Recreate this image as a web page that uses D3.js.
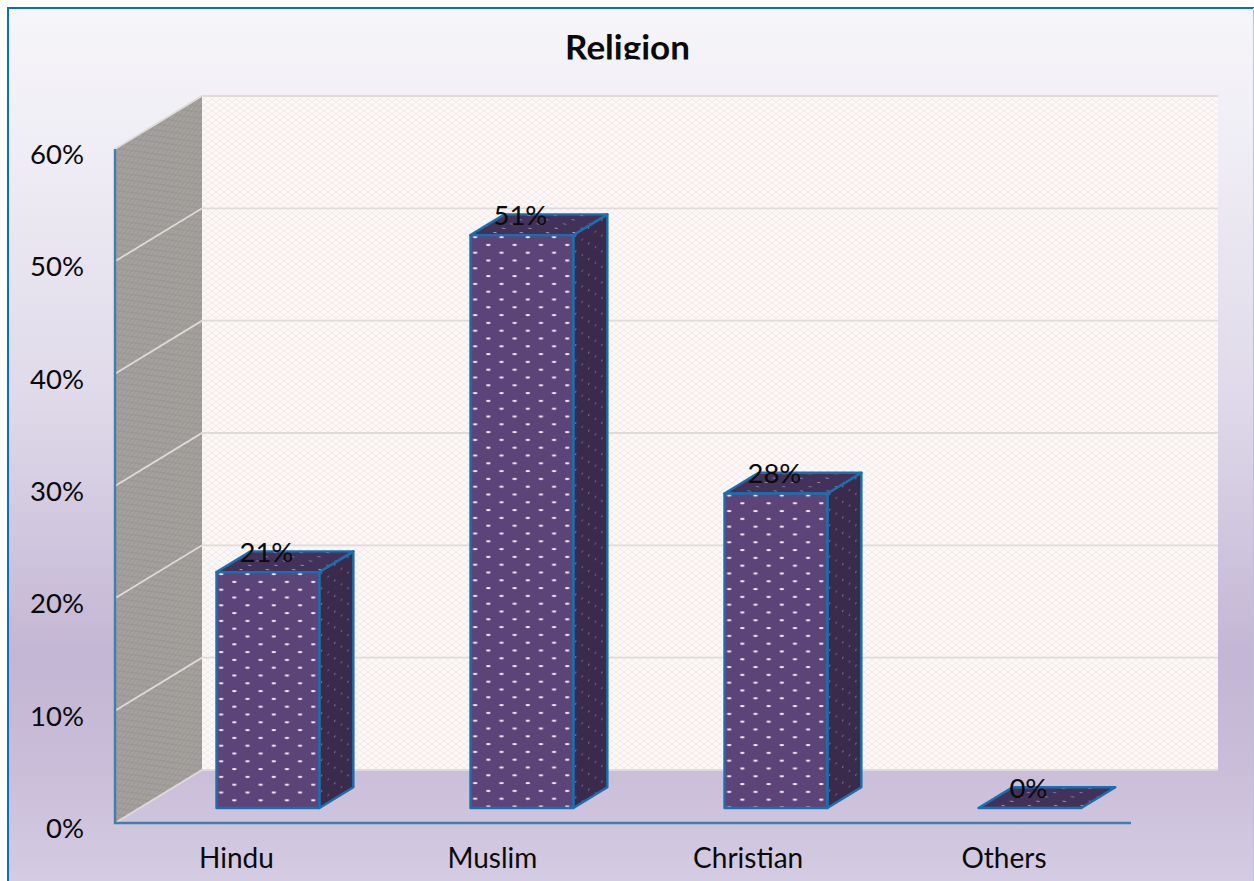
<!DOCTYPE html>
<html>
<head>
<meta charset="utf-8">
<script src="https://cdn.jsdelivr.net/npm/d3@7/dist/d3.min.js"></script>
<style>
html,body{margin:0;padding:0;background:#fff;overflow:hidden}
svg{display:block}
text{font-family:Lato,"Open Sans",sans-serif;fill:#0a0a0a}
</style>
</head>
<body>
<svg id="chart" width="1254" height="881"></svg>
<script>
// Chart content
const chartTitle = "Religion";
const categories = ["Hindu", "Muslim", "Christian", "Others"];
const shares = [21, 51, 28, 0];
const axisTicks = [0, 10, 20, 30, 40, 50, 60];

const svg = d3.select("#chart");
const W = 1254, H = 881;

// Front plane of the 3D box, plus the shift applied by full depth
const plot = {left: 115, right: 1131, base: 823, top: 149, dx: 87, dy: -53};
const barNear = 0.283, barFar = 0.674;
const barShift = 1.3;

const y = d3.scaleLinear().domain([0, 60]).range([plot.base, plot.top]);
const x = d3.scaleBand().domain(categories).range([plot.left, plot.right]).paddingInner(0.595).paddingOuter(0.2975);
const labelX = d3.scalePoint().domain(categories).range([236.5, 1004]);

// Projects a value position and depth (0 front, 1 back) to the page
const proj = (px, v, d) => [px + plot.dx * d, y(v) + plot.dy * d];
const poly = pts => pts.map(p => p.map(n => +n.toFixed(2)).join(",")).join(" ");

const defs = svg.append("defs");

const bg = defs.append("linearGradient").attr("id", "bg").attr("x1", 0).attr("x2", 0).attr("y1", 0).attr("y2", 1);
[[0, "#f6f5f9"], [0.13, "#f1eff6"], [0.45, "#dfd9e9"], [0.74, "#c3b6d4"], [0.87, "#cabdd9"], [1, "#d4cce2"]]
  .forEach(([o, c]) => bg.append("stop").attr("offset", o).attr("stop-color", c));

// Fine lattice used on the walls
function lattice(id, base, line, op, transform) {
  const p = defs.append("pattern").attr("id", id).attr("patternUnits", "userSpaceOnUse")
    .attr("width", 8).attr("height", 6);
  if (transform) p.attr("patternTransform", transform);
  p.append("rect").attr("width", 8).attr("height", 6).attr("fill", base);
  p.append("path").attr("d", "M0,0L4,3L8,0M0,6L4,3L8,6").attr("fill", "none")
    .attr("stroke", line).attr("stroke-width", 0.8).attr("stroke-opacity", op);
}
lattice("backWall", "#fdf8f7", "#ebe4e3", 0.9);
lattice("sideWall", "#a5a19e", "#8d8a88", 0.7, "matrix(1 -0.609 0 1 0 0)");

// Staggered dots on the bar faces
function dots(id, base, dot, rx, ry, transform) {
  const p = defs.append("pattern").attr("id", id).attr("patternUnits", "userSpaceOnUse")
    .attr("width", 26.3).attr("height", 15.6);
  p.attr("patternTransform", transform);
  p.append("rect").attr("width", 26.3).attr("height", 15.6).attr("fill", base);
  [[4.7, 2], [17.85, 9.8]].forEach(([cx, cy]) => p.append("ellipse")
    .attr("cx", cx).attr("cy", cy).attr("rx", rx).attr("ry", ry).attr("fill", dot));
}

defs.append("clipPath").attr("id", "titleClip").append("rect")
  .attr("x", 0).attr("y", 0).attr("width", W).attr("height", 59.5);

// Chart area and frame
svg.append("rect").attr("x", 8).attr("y", 8).attr("width", W - 8).attr("height", H - 8).attr("fill", "url(#bg)");
svg.append("path").attr("d", `M8,${H}V8H${W}`).attr("fill", "none").attr("stroke", "#0a70bb").attr("stroke-width", 2);
svg.append("line").attr("x1", W - 0.5).attr("x2", W - 0.5).attr("y1", 8).attr("y2", H)
  .attr("stroke", "#a9c6e4").attr("stroke-width", 1);

// Walls
const L = plot.left, R = plot.right;
svg.append("polygon").attr("points", poly([proj(L, 0, 0), proj(L, 60, 0), proj(L, 60, 1), proj(L, 0, 1)]))
  .attr("fill", "url(#sideWall)");
svg.append("polygon").attr("points", poly([proj(L, 0, 1), proj(L, 60, 1), proj(R, 60, 1), proj(R, 0, 1)]))
  .attr("fill", "url(#backWall)");

// Gridlines wrap from the side wall onto the back wall
svg.append("g").selectAll("polyline").data(axisTicks).join("polyline")
  .attr("points", v => poly([proj(L, v, 0), proj(L, v, 1), proj(R, v, 1)]))
  .attr("fill", "none").attr("stroke", "#dedbd9").attr("stroke-width", 1.8);

// Axis lines
svg.append("path").attr("d", `M${L},${y(60)}V${y(0)}H${R}`).attr("fill", "none")
  .attr("stroke", "#3f7fa9").attr("stroke-width", 2.4);

// Value axis labels
svg.append("g").selectAll("text").data(axisTicks).join("text")
  .attr("x", 84).attr("y", v => y(v) + 15).attr("text-anchor", "end")
  .attr("font-size", 27.5).text(v => v + "%");

// Category labels
svg.append("g").selectAll("text").data(categories).join("text")
  .attr("x", c => labelX(c))
  .attr("y", 868).attr("text-anchor", "middle").attr("font-size", 28).text(c => c);

// Bars: side and top faces sit behind the front face
const faceStroke = {stroke: "#1c6fae", "stroke-width": 2.4, "stroke-linejoin": "round"};
const applyStroke = s => Object.entries(faceStroke).forEach(([k, val]) => s.attr(k, val));
svg.append("g").selectAll("g").data(categories).join("g").each(function (c, i) {
  const g = d3.select(this), v = shares[i];
  const a = x(c) + barShift, b = a + x.bandwidth();
  const [fx, fy] = proj(a, v, barNear);
  const [sx] = proj(b, v, barNear);
  const [tx, ty] = proj(a, v, barFar);
  dots(`barFront${i}`, "#5c4478", "#f1ecf6", 2.4, 1.1, `translate(${fx} ${fy})`);
  dots(`barSide${i}`, "#3a2b4d", "#a99bb8", 1, 0.9, `matrix(0.5 -0.3 0 1 ${sx} ${fy})`);
  dots(`barTop${i}`, "#42325a", "#b5a7c4", 1.7, 0.8, `matrix(1 0 0.6 0.55 ${fx} ${ty})`);
  if (v > 0) {
    g.append("polygon").attr("fill", `url(#barSide${i})`).call(applyStroke)
      .attr("points", poly([proj(b, 0, barNear), proj(b, v, barNear), proj(b, v, barFar), proj(b, 0, barFar)]));
  }
  g.append("polygon").attr("fill", `url(#barTop${i})`).call(applyStroke)
    .attr("points", poly([proj(a, v, barNear), proj(b, v, barNear), proj(b, v, barFar), proj(a, v, barFar)]));
  if (v > 0) {
    g.append("polygon").attr("fill", `url(#barFront${i})`).call(applyStroke)
      .attr("points", poly([proj(a, 0, barNear), proj(a, v, barNear), proj(b, v, barNear), proj(b, 0, barNear)]));
  }
});

// Value labels on the bar tops
svg.append("g").selectAll("text").data(categories).join("text")
  .attr("x", c => proj(x(c) + x.bandwidth() / 2, 0, barNear)[0] + barShift - 1.5)
  .attr("y", (c, i) => proj(0, shares[i], barFar)[1] + 10.5)
  .attr("text-anchor", "middle").attr("font-size", 27.5).text((c, i) => shares[i] + "%");

// Title, cut off at the bottom of its box
svg.append("text").attr("clip-path", "url(#titleClip)")
  .attr("x", 627.5).attr("y", 59.5).attr("text-anchor", "middle")
  .attr("font-size", 35).attr("font-weight", 700).text(chartTitle);
</script>
</body>
</html>
